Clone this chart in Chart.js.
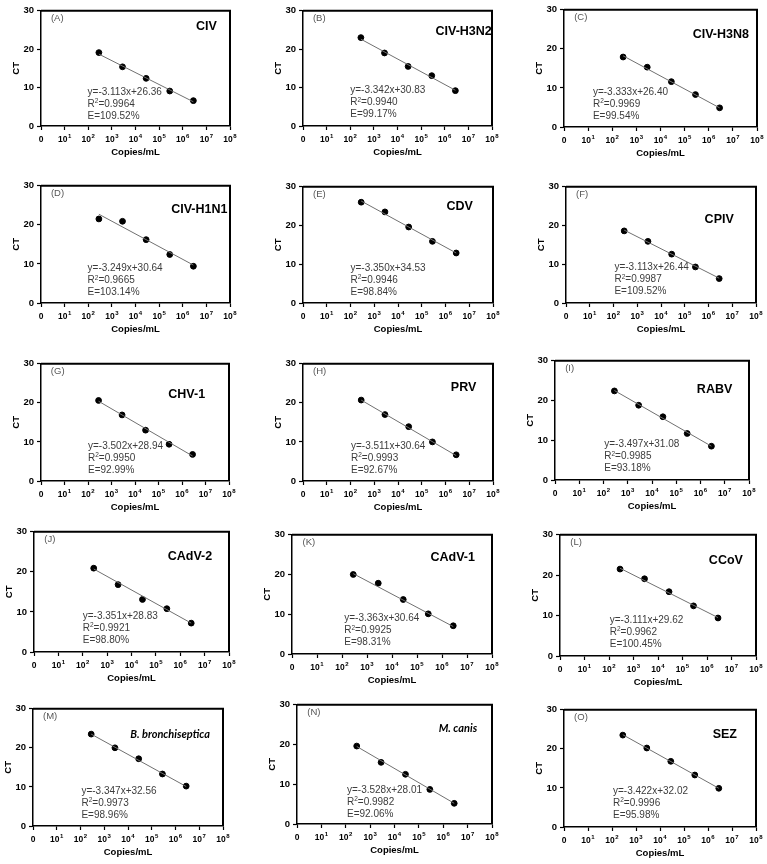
<!DOCTYPE html>
<html>
<head>
<meta charset="utf-8">
<script src="https://cdn.jsdelivr.net/npm/chart.js@4.4.1/dist/chart.umd.min.js"></script>
<style>
  body { margin: 0; background: #fff; }
  #page { position: relative; width: 767px; height: 864px; background: #fff; }
  .panel { position: absolute; }
</style>
</head>
<body>
<div id="page"></div>
<script>
// log10(copies/mL) of the five dilutions
const xLog = [2.45, 3.45, 4.45, 5.45, 6.45];
// x tick labels: base and exponent (0 has no exponent)
const xTickBase = ['0', '10', '10', '10', '10', '10', '10', '10', '10'];
const xTickExp = ['', '1', '2', '3', '4', '5', '6', '7', '8'];
const yTicks = [0, 10, 20, 30];

const panelLabels = ['(A)', '(B)', '(C)', '(D)', '(E)', '(F)', '(G)', '(H)', '(I)', '(J)', '(K)', '(L)', '(M)', '(N)', '(O)'];
const panelNames = ['CIV', 'CIV-H3N2', 'CIV-H3N8', 'CIV-H1N1', 'CDV', 'CPIV', 'CHV-1', 'PRV', 'RABV',
  'CAdV-2', 'CAdV-1', 'CCoV', 'B. bronchiseptica', 'M. canis', 'SEZ'];
const equations = ['y=-3.113x+26.36', 'y=-3.342x+30.83', 'y=-3.333x+26.40', 'y=-3.249x+30.64', 'y=-3.350x+34.53',
  'y=-3.113x+26.44', 'y=-3.502x+28.94', 'y=-3.511x+30.64', 'y=-3.497x+31.08', 'y=-3.351x+28.83',
  'y=-3.363x+30.64', 'y=-3.111x+29.62', 'y=-3.347x+32.56', 'y=-3.528x+28.01', 'y=-3.422x+32.02'];
const r2Values = ['0.9964', '0.9940', '0.9969', '0.9665', '0.9946', '0.9987', '0.9950', '0.9993', '0.9985',
  '0.9921', '0.9925', '0.9962', '0.9973', '0.9982', '0.9996'];
const efficiencies = ['109.52%', '99.17%', '99.54%', '103.14%', '98.84%', '109.52%', '92.99%', '92.67%', '93.18%',
  '98.80%', '98.31%', '100.45%', '98.96%', '92.06%', '95.98%'];

// CT values per panel
const ctA = [19.1, 15.4, 12.4, 9.1, 6.6];
const ctB = [23.0, 19.0, 15.5, 13.1, 9.2];
const ctC = [17.9, 15.3, 11.6, 8.3, 4.9];
const ctD = [21.5, 20.9, 16.2, 12.4, 9.4];
const ctE = [26.0, 23.5, 19.6, 15.9, 12.9];
const ctF = [18.6, 15.9, 12.6, 9.3, 6.3];
const ctG = [20.6, 16.9, 13.0, 9.4, 6.8];
const ctH = [20.7, 17.0, 13.9, 10.0, 6.7];
const ctI = [22.4, 18.8, 15.9, 11.7, 8.5];
const ctJ = [20.9, 16.8, 13.1, 10.8, 7.2];
const ctK = [20.0, 17.8, 13.7, 10.1, 7.1];
const ctL = [21.5, 19.1, 15.9, 12.4, 9.4];
const ctM = [23.5, 20.0, 17.2, 13.3, 10.2];
const ctN = [19.6, 15.5, 12.5, 8.7, 5.2];
const ctO = [23.5, 20.2, 16.8, 13.3, 9.9];
const ctSeries = [ctA, ctB, ctC, ctD, ctE, ctF, ctG, ctH, ctI, ctJ, ctK, ctL, ctM, ctN, ctO];

// fitted line, CT at first and last dilution
const fitStart = [18.7, 22.6, 18.2, 22.7, 26.3, 18.8, 20.4, 20.7, 22.5, 20.7, 20.2, 21.7, 23.5, 19.5, 23.6];
const fitEnd = [6.3, 9.3, 4.9, 9.7, 12.9, 6.4, 6.4, 6.5, 8.5, 7.2, 6.9, 9.5, 10.1, 5.2, 9.9];

// layout: plot box [left, top, right, bottom] in page px
const plotBoxes = [
  [41, 8, 230, 126], [303, 8, 492, 126], [564, 7, 757, 127],
  [41, 183, 230, 303], [303, 184, 493, 303], [566, 184, 756, 303],
  [41, 361, 229, 481], [303, 361, 493, 481], [555, 358, 749, 480],
  [34, 529, 229, 652], [292, 532, 492, 654], [560, 532, 756, 656],
  [33, 706, 223, 826], [297, 702, 492, 824], [564, 707, 756, 827]
];
// text anchors in axis units
const namePos = [[7.0, 26.0], [6.8, 24.6], [6.5, 23.7], [6.7, 24.0], [6.6, 24.8], [6.45, 21.4], [6.2, 22.1],
  [6.76, 24.0], [6.58, 22.8], [6.4, 23.7], [6.43, 24.3], [6.77, 23.7], [5.77, 23.3], [6.6, 24.0], [6.7, 23.6]];
const eqPos = [[1.97, 8.9], [2.0, 9.2], [1.2, 9.0], [1.97, 8.8], [2.0, 9.0], [2.04, 9.1], [2.0, 8.9],
  [2.02, 8.9], [2.03, 8.9], [2.0, 9.0], [2.09, 8.9], [2.03, 8.9], [2.04, 8.9], [2.05, 8.6], [2.04, 9.2]];
const labelPos = [0.42, 28.0];

const FONT = "'Liberation Sans', Arial, sans-serif";
Chart.defaults.font.family = FONT;

const Y_W = 32, X_H = 32, PAD_T = 6, PAD_R = 8;

const panelDecor = {
  id: 'panelDecor',
  afterDatasetsDraw(chart, args, opts) {
    const i = opts.index;
    const { ctx, chartArea: a, scales: { x, y } } = chart;
    ctx.save();
    // top and right frame
    ctx.strokeStyle = '#000';
    ctx.lineWidth = 2;
    ctx.beginPath();
    ctx.moveTo(a.left, a.top);
    ctx.lineTo(a.right, a.top);
    ctx.lineTo(a.right, a.bottom);
    ctx.stroke();

    // x tick labels with superscript exponents
    ctx.fillStyle = '#000';
    ctx.textAlign = 'left';
    ctx.textBaseline = 'alphabetic';
    x.ticks.forEach(function (tk, k) {
      const px = x.getPixelForValue(tk.value);
      ctx.font = 'bold 8.5px ' + FONT;
      const bw = ctx.measureText(xTickBase[k]).width;
      ctx.font = 'bold 6px ' + FONT;
      const ew = xTickExp[k] ? ctx.measureText(xTickExp[k]).width + 0.5 : 0;
      const sx = px - (bw + ew) / 2;
      ctx.font = 'bold 8.5px ' + FONT;
      ctx.fillText(xTickBase[k], sx, a.bottom + 15.5);
      if (xTickExp[k]) {
        ctx.font = 'bold 6px ' + FONT;
        ctx.fillText(xTickExp[k], sx + bw + 0.5, a.bottom + 12);
      }
    });

    ctx.textBaseline = 'middle';
    // panel letter
    ctx.fillStyle = '#555';
    ctx.font = '9.5px ' + FONT;
    ctx.fillText(panelLabels[i], x.getPixelForValue(labelPos[0]), y.getPixelForValue(labelPos[1]));

    // pathogen name
    ctx.fillStyle = '#000';
    const italic = i === 12 || i === 13;
    ctx.font = italic ? 'italic bold 11px Lato, ' + FONT : 'bold 12.5px ' + FONT;
    ctx.textAlign = 'center';
    ctx.fillText(panelNames[i], x.getPixelForValue(namePos[i][0]), y.getPixelForValue(namePos[i][1]));

    // equation block
    ctx.fillStyle = '#3c3c3c';
    ctx.font = '10px ' + FONT;
    ctx.textAlign = 'left';
    const ex = x.getPixelForValue(eqPos[i][0]);
    const ey = y.getPixelForValue(eqPos[i][1]);
    ctx.fillText(equations[i], ex, ey);
    ctx.fillText('R', ex, ey + 12);
    const rw = ctx.measureText('R').width;
    ctx.font = '6.5px ' + FONT;
    ctx.fillText('2', ex + rw, ey + 9.5);
    const sw = ctx.measureText('2').width;
    ctx.font = '10px ' + FONT;
    ctx.fillText('=' + r2Values[i], ex + rw + sw, ey + 12);
    ctx.fillText('E=' + efficiencies[i], ex, ey + 24);
    ctx.restore();
  }
};

const page = document.getElementById('page');

plotBoxes.forEach(function (box, i) {
  const [l, t, r, b] = box;
  const w = r - l + Y_W + PAD_R;
  const h = b - t + PAD_T + X_H;
  const div = document.createElement('div');
  div.className = 'panel';
  div.style.left = (l - Y_W) + 'px';
  div.style.top = (t - PAD_T) + 'px';
  const canvas = document.createElement('canvas');
  canvas.width = w;
  canvas.height = h;
  canvas.style.width = w + 'px';
  canvas.style.height = h + 'px';
  div.appendChild(canvas);
  page.appendChild(div);

  const axisCommon = {
    type: 'linear',
    border: { color: '#000', width: 1.5 },
    grid: { drawOnChartArea: false, drawTicks: true, tickLength: 4, color: '#000', tickWidth: 1.2 },
  };

  new Chart(canvas, {
    type: 'scatter',
    data: {
      datasets: [
        {
          type: 'line',
          data: [{ x: xLog[0], y: fitStart[i] }, { x: xLog[xLog.length - 1], y: fitEnd[i] }],
          borderColor: '#707070',
          borderWidth: 1,
          pointRadius: 0,
          fill: false,
        },
        {
          data: xLog.map(function (xv, j) { return { x: xv, y: ctSeries[i][j] }; }),
          backgroundColor: '#000',
          borderColor: '#000',
          pointRadius: 2.9,
        },
      ],
    },
    options: {
      responsive: false,
      animation: false,
      devicePixelRatio: 1,
      layout: { padding: { top: PAD_T, right: PAD_R, left: 0, bottom: 0 } },
      plugins: {
        legend: { display: false },
        tooltip: { enabled: false },
        panelDecor: { index: i },
      },
      scales: {
        x: Object.assign({}, axisCommon, {
          min: 0,
          max: 8,
          afterFit: function (s) { s.height = X_H; },
          ticks: {
            stepSize: 1, autoSkip: false, maxRotation: 0, padding: 3,
            font: { size: 8.5, weight: 'bold' },
            callback: function () { return ''; },
          },
          title: {
            display: true, text: 'Copies/mL', color: '#000',
            font: { size: 9.5, weight: 'bold' }, padding: { top: 0, bottom: 0 },
          },
        }),
        y: Object.assign({}, axisCommon, {
          min: yTicks[0],
          max: yTicks[yTicks.length - 1],
          afterFit: function (s) { s.width = Y_W; },
          afterBuildTicks: function (s) { s.ticks = yTicks.map(function (v) { return { value: v }; }); },
          ticks: { padding: 3, color: '#000', font: { size: 9.5, weight: 'bold' } },
          title: {
            display: true, text: 'CT', color: '#000',
            font: { size: 9.5, weight: 'bold' }, padding: { top: 1.5, bottom: 0 },
          },
        }),
      },
    },
    plugins: [panelDecor],
  });
});
</script>
</body>
</html>
